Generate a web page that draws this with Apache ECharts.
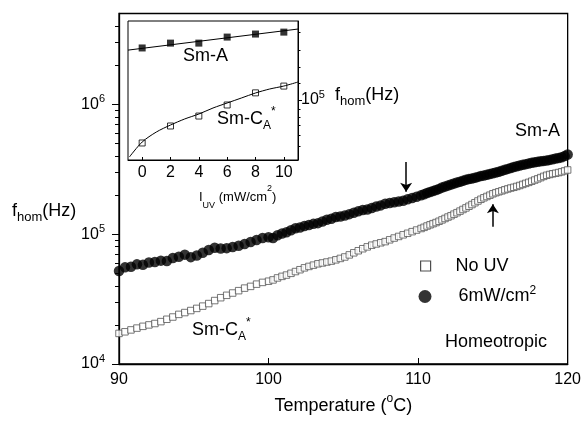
<!DOCTYPE html>
<html>
<head>
<meta charset="utf-8">
<script src="https://cdn.jsdelivr.net/npm/echarts@6.0.0/dist/echarts.min.js"></script>
<style>
  html, body { margin: 0; padding: 0; background: #fff; }
  #chart { width: 584px; height: 421px; }
</style>
</head>
<body>
<div id="chart"></div>
<script>
// main plot: temperature (°C) for both runs
const temps = [
  90.0, 90.4, 90.8, 91.2, 91.6, 92.0, 92.4, 92.8, 93.2, 93.6, 94.0, 94.4, 94.8,
  95.2, 95.6, 96.0, 96.4, 96.8, 97.2, 97.6, 98.0, 98.4, 98.8, 99.2, 99.6,
  100.0, 100.3, 100.6, 100.9, 101.2, 101.5, 101.8, 102.1, 102.4, 102.7, 103.0,
  103.3, 103.6, 103.9, 104.2, 104.5, 104.8, 105.1, 105.4, 105.7, 106.0, 106.3,
  106.6, 106.9, 107.2, 107.5, 107.8, 108.1, 108.4, 108.7, 109.0, 109.3, 109.6, 109.9,
  110.2, 110.4, 110.6, 110.8, 111.0, 111.2, 111.4, 111.6, 111.8, 112.0,
  112.2, 112.4, 112.6, 112.8, 113.0, 113.2, 113.4, 113.6, 113.8, 114.0,
  114.2, 114.4, 114.6, 114.8, 115.0, 115.2, 115.4, 115.6, 115.8, 116.0,
  116.2, 116.4, 116.6, 116.8, 117.0, 117.2, 117.4, 117.6, 117.8, 118.0,
  118.2, 118.4, 118.6, 118.8, 119.0, 119.2, 119.4, 119.6, 119.8, 120.0
]
// f_hom (Hz) without UV (open squares)
const noUV = [
  17200, 17700, 18300, 18900, 19500, 20000, 20500, 21200, 22100, 23000, 24100, 24900, 25800,
  26800, 27900, 29200, 30800, 32400, 33800, 35200, 36700, 38400, 39600, 41200, 42500,
  43400, 44400, 46000, 47300, 48400, 49900, 51500, 53200, 55000, 56400, 57700,
  59100, 60000, 61000, 62000, 63400, 65000, 66700, 69200, 71800, 74500, 77200,
  79800, 82200, 84000, 85800, 87600, 90400, 93300, 96000, 98800, 101500, 104500, 107500,
  110500, 112800, 115500, 118000, 120400, 122800, 125600, 128700, 132000, 135400,
  138600, 142500, 146300, 150400, 154800, 159200, 164000, 169000, 174500, 180000,
  185500, 190500, 195000, 199500, 204500, 208500, 212000, 215500, 219500, 223000,
  226500, 229500, 233000, 237000, 241500, 246000, 250500, 255500, 261000, 266500,
  272500, 278500, 284000, 288000, 291500, 294500, 298000, 302000, 307000, 312000
]
// f_hom (Hz) under 6 mW/cm2 UV (filled circles)
const uv6 = [
  52000, 55500, 56000, 58500, 58000, 60500, 61000, 62500, 62000, 65500, 67000, 69500, 66500,
  68500, 72000, 75500, 78500, 77500, 78000, 79500, 81500, 84000, 87000, 90000, 93500,
  94500, 93500, 98000, 101000, 103500, 107000, 111000, 112500, 115500, 117500, 120000,
  121500, 125000, 129000, 131500, 135500, 136500, 139000, 142500, 146000, 150000, 153500,
  155000, 159000, 163000, 166500, 171500, 173500, 176000, 178500, 181000, 185500, 190000, 194000,
  199000, 203000, 207500, 211000, 214500, 218500, 223000, 228500, 232500, 236500,
  241000, 245500, 249500, 253500, 257500, 262000, 265500, 268500, 272000, 276000,
  280000, 283000, 287000, 290500, 294000, 298500, 302500, 307500, 312500, 318000,
  323500, 328500, 332500, 337000, 341500, 346000, 350000, 354500, 358000, 361000,
  364000, 366500, 369500, 373000, 377000, 381500, 386000, 391000, 399000, 410000
]

// inset: f_hom versus UV intensity
const uvIntensity = [0, 2, 4, 6, 8, 10]
const insetSmA = [259000, 283000, 283000, 316000, 334000, 346000]
const insetSmCA = [45600, 62200, 74600, 91300, 114000, 129000]
// fitted curves in the inset
const fitSmAX = [-1, 5, 11]
const fitSmAY = [249000, 302000, 366000]
const fitSmCAX = [-0.9, 0, 1, 2, 3, 4, 5, 6, 7, 8, 9, 10, 11]
const fitSmCAY = [35300, 46400, 55700, 63300, 70700, 77400, 86400, 94700, 103700, 113700, 122300, 129100, 139000]

// axis ranges and tick labels
const mainYMin = 1e4, mainYMax = 5e6
const insetYMin = 33400, insetYMax = 424000
const mainDecades = [4, 5, 6]
const insetDecades = [5]
const insetXTicks = [0, 2, 4, 6, 8, 10]

const FONT = "'Liberation Sans', Arial, Helvetica, sans-serif"

// log10 positions of the 2..9 minor ticks between decades
const minorLog = []
for (let d = 4; d <= 6; d++) {
  for (let k = 2; k <= 9; k++) {
    const v = Math.log10(k * Math.pow(10, d))
    if (v < Math.log10(mainYMax)) minorLog.push(v)
  }
}
const insetMinor = [4.635, 4.722, 4.796, 4.863, 4.929, 5.1325, 5.2595, 5.397, 5.537]

const zip = (xs, ys) => xs.map((x, i) => [x, ys[i]])

const supRich = {
  n: { fontSize: 18, lineHeight: 26, fontFamily: FONT, color: '#000' },
  sub: { fontSize: 12, lineHeight: 12, verticalAlign: 'bottom', fontFamily: FONT, color: '#000' },
  sup: { fontSize: 12, lineHeight: 12, verticalAlign: 'top', fontFamily: FONT, color: '#000' }
}
const tickRich = {
  sup: { fontSize: 11, lineHeight: 10, verticalAlign: 'top', fontFamily: FONT, color: '#000' }
}

// free text with sub/superscripts
const textEl = (x, y, text, size, small) => ({
  type: 'text',
  x: x,
  y: y,
  silent: true,
  style: {
    text: text,
    fill: '#000',
    fontSize: size || 18,
    fontFamily: FONT,
    verticalAlign: 'middle',
    rich: {
      n: { fontSize: size || 18, lineHeight: 26, fontFamily: FONT, fill: '#000' },
      sub: { fontSize: small || 12, lineHeight: 12, verticalAlign: 'bottom', fontFamily: FONT, fill: '#000' },
      sup: { fontSize: small || 12, lineHeight: 12, verticalAlign: 'top', fontFamily: FONT, fill: '#000' }
    }
  }
})

const chart = echarts.init(document.getElementById('chart'))

const option = {
  animation: false,
  backgroundColor: '#fff',
  grid: [
    { left: 119, top: 13.5, right: 15, bottom: 57, show: true, borderColor: '#000', borderWidth: 1.3 },
    { left: 128, top: 21, width: 170, height: 139, show: true, borderColor: '#000', borderWidth: 1, backgroundColor: '#fff' }
  ],
  xAxis: [
    {
      type: 'value', gridIndex: 0, min: 90, max: 120, interval: 10, position: 'bottom',
      axisLine: { onZero: false, lineStyle: { color: '#000', width: 1.3 } },
      axisTick: { inside: true, length: 6, lineStyle: { color: '#000' } },
      axisLabel: { color: '#000', fontSize: 16, fontFamily: FONT, margin: 8 },
      splitLine: { show: false },
      name: '{n|Temperature (}{sup|o}{n|C)}',
      nameLocation: 'middle', nameGap: 27,
      nameTextStyle: { rich: supRich }
    },
    {
      type: 'value', gridIndex: 1, min: -1, max: 11, position: 'bottom',
      axisLine: { onZero: false, lineStyle: { color: '#000', width: 1 } },
      axisTick: { inside: true, length: 3, customValues: insetXTicks, lineStyle: { color: '#000' } },
      axisLabel: { color: '#000', fontSize: 16, fontFamily: FONT, margin: 5, customValues: insetXTicks },
      splitLine: { show: false }
    }
  ],
  yAxis: [
    // log axis carrying the main data
    {
      type: 'log', gridIndex: 0, position: 'left', min: mainYMin, max: mainYMax, logBase: 10,
      axisLine: { show: true, onZero: false, lineStyle: { color: '#000', width: 1.3 } },
      axisTick: { show: false }, axisLabel: { show: false }, splitLine: { show: false }
    },
    // decade ticks and labels
    {
      type: 'value', gridIndex: 0, position: 'left', min: 4, max: Math.log10(mainYMax),
      axisLine: { show: false, onZero: false }, splitLine: { show: false },
      axisTick: { show: true, inside: false, length: 7, customValues: mainDecades, lineStyle: { color: '#000' } },
      axisLabel: {
        customValues: mainDecades, margin: 14, color: '#000', fontSize: 16, fontFamily: FONT, lineHeight: 22,
        formatter: v => '10{sup|' + Math.round(v) + '}', rich: tickRich
      }
    },
    // minor ticks
    {
      type: 'value', gridIndex: 0, position: 'left', min: 4, max: Math.log10(mainYMax),
      axisLine: { show: false, onZero: false }, splitLine: { show: false }, axisLabel: { show: false },
      axisTick: { show: true, inside: false, length: 4, customValues: minorLog, lineStyle: { color: '#000' } }
    },
    // inset log axis
    {
      type: 'log', gridIndex: 1, position: 'right', min: insetYMin, max: insetYMax, logBase: 10,
      axisLine: { show: true, onZero: false, lineStyle: { color: '#000', width: 1 } },
      axisTick: { show: false }, axisLabel: { show: false }, splitLine: { show: false }
    },
    {
      type: 'value', gridIndex: 1, position: 'right', min: Math.log10(insetYMin), max: Math.log10(insetYMax),
      axisLine: { show: false, onZero: false }, splitLine: { show: false },
      axisTick: { show: true, inside: false, length: 4, customValues: insetDecades, lineStyle: { color: '#000' } },
      axisLabel: {
        customValues: insetDecades, margin: 3, color: '#000', fontSize: 16, fontFamily: FONT, lineHeight: 22,
        formatter: v => '10{sup|' + Math.round(v) + '}', rich: tickRich
      }
    },
    {
      type: 'value', gridIndex: 1, position: 'right', min: Math.log10(insetYMin), max: Math.log10(insetYMax),
      axisLine: { show: false, onZero: false }, splitLine: { show: false }, axisLabel: { show: false },
      axisTick: { show: true, inside: false, length: 2.5, customValues: insetMinor, lineStyle: { color: '#000' } }
    }
  ],
  legend: [
    {
      left: 420, top: 257, padding: 0, orient: 'vertical', selectedMode: false,
      itemWidth: 10, itemHeight: 10,
      data: [{ name: 'No UV', icon: 'rect', itemStyle: { color: '#fff', borderColor: '#222', borderWidth: 1.2 } }],
      textStyle: { color: '#000', fontSize: 18, fontFamily: FONT, padding: [0, 0, 0, 20] }
    },
    {
      left: 418.5, top: 284.5, padding: 0, orient: 'vertical', selectedMode: false,
      itemWidth: 13, itemHeight: 13,
      data: [{ name: '6mW/cm2', icon: 'circle', itemStyle: { color: '#000' } }],
      formatter: () => '6mW/cm{sup|2}',
      textStyle: {
        color: '#000', fontSize: 18, fontFamily: FONT, lineHeight: 24, padding: [0, 0, 0, 22],
        rich: { sup: { fontSize: 12, lineHeight: 12, verticalAlign: 'top', fontFamily: FONT, color: '#000' } }
      }
    }
  ],
  series: [
    {
      name: 'No UV', type: 'scatter', xAxisIndex: 0, yAxisIndex: 0,
      symbol: 'rect', symbolSize: 6.5,
      itemStyle: { color: '#fff', borderColor: '#555', borderWidth: 1 },
      data: zip(temps, noUV)
    },
    {
      name: '6mW/cm2', type: 'scatter', xAxisIndex: 0, yAxisIndex: 0,
      symbol: 'circle', symbolSize: 10.5,
      itemStyle: { color: '#000' },
      data: zip(temps, uv6),
      markLine: {
        silent: true, symbol: ['none', 'arrow'], symbolSize: 9,
        label: { show: false },
        lineStyle: { color: '#000', width: 1.5, type: 'solid' },
        data: [
          [{ coord: [109.2, 360000] }, { coord: [109.2, 212000] }],
          [{ coord: [115.0, 114000] }, { coord: [115.0, 170000] }]
        ]
      }
    },
    {
      name: 'fitA', type: 'line', xAxisIndex: 1, yAxisIndex: 3,
      showSymbol: false, silent: true,
      lineStyle: { color: '#000', width: 1 },
      data: zip(fitSmAX, fitSmAY)
    },
    {
      name: 'fitCA', type: 'line', xAxisIndex: 1, yAxisIndex: 3,
      showSymbol: false, silent: true, smooth: 0.3,
      lineStyle: { color: '#000', width: 1 },
      data: zip(fitSmCAX, fitSmCAY)
    },
    {
      name: 'insetA', type: 'scatter', xAxisIndex: 1, yAxisIndex: 3,
      symbol: 'rect', symbolSize: 7, itemStyle: { color: '#000' },
      data: zip(uvIntensity, insetSmA)
    },
    {
      name: 'insetCA', type: 'scatter', xAxisIndex: 1, yAxisIndex: 3,
      symbol: 'rect', symbolSize: 6,
      itemStyle: { color: '#fff', borderColor: '#000', borderWidth: 1 },
      data: zip(uvIntensity, insetSmCA)
    }
  ],
  graphic: [
    textEl(12, 211, '{n|f}{sub|hom}{n|(Hz)}', 18, 13),
    textEl(335, 95, '{n|f}{sub|hom}{n|(Hz)}', 18, 13),
    textEl(199, 197, '{n|I}{sub|UV}{n| (mW/cm}{sup|2}{n|)}', 13, 9),
    textEl(183, 56, '{n|Sm-A}'),
    textEl(217, 119, '{n|Sm-C}{sub|A}{sup|*}'),
    textEl(515, 131, '{n|Sm-A}'),
    textEl(192, 330, '{n|Sm-C}{sub|A}{sup|*}'),
    textEl(445, 342, '{n|Homeotropic}')
  ]
}

chart.setOption(option)
</script>
</body>
</html>
